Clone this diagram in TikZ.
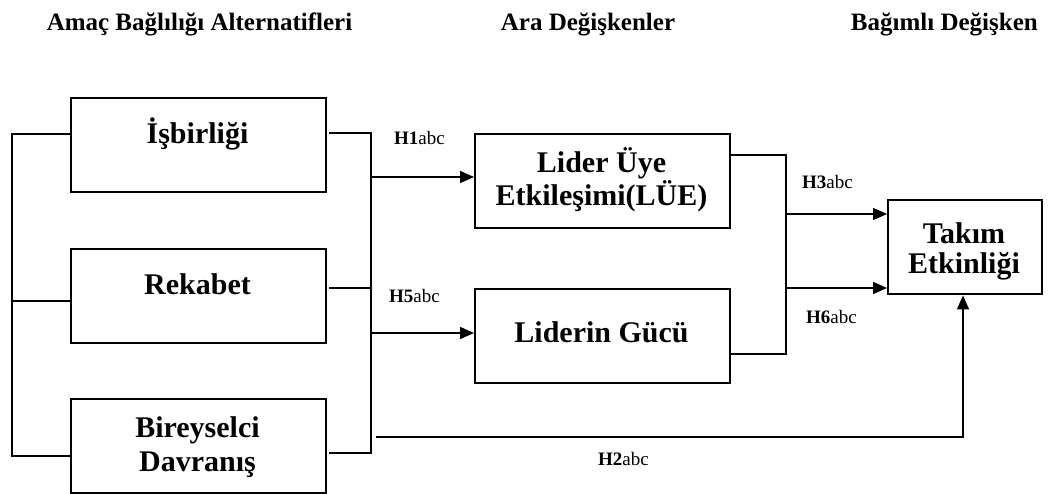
\documentclass[tikz,border=0pt]{standalone}
\usepackage{fontspec}
\setmainfont{Liberation Serif}
\usetikzlibrary{arrows.meta}
\begin{document}
\begin{tikzpicture}[x=1pt,y=-1pt,
  box/.style={draw, line width=2.4pt, minimum width=255pt, minimum height=94pt,
    inner sep=0pt, anchor=north west},
  btxt/.style={font=\fontsize{30}{36}\selectfont\bfseries, anchor=base, inner sep=0pt},
  head/.style={font=\fontsize{25}{30}\selectfont\bfseries, anchor=base, inner sep=0pt},
  hyp/.style={font=\fontsize{19}{23}\selectfont, anchor=base west, inner sep=0pt},
  link/.style={line width=1.5pt},
  arr/.style={link, -{Triangle[length=14pt,width=12pt]}}]
\useasboundingbox (0,0) rectangle (1049,493);

% column headings
\node[head] (hA) at (199.5,30) {Amaç Bağlılığı Alternatifleri};
\node[head] (hB) at (588,30) {Ara Değişkenler};
\node[head, anchor=base east] (hC) at (1038,30) {Bağımlı Değişken};

% boxes
\node[box] (isb) at (70,97) {};
\node[box] (rek) at (70,248) {};
\node[box] (bir) at (70,398) {};
\node[box] (lue) at (474,133) {};
\node[box] (lg) at (474,288) {};
\node[box, minimum width=154pt] (tak) at (887,199) {};

% box texts
\node[btxt] (isbT) at (197.5,143) {İşbirliği};
\node[btxt] (rekT) at (197.5,294) {Rekabet};
\node[btxt] (birT1) at (197.5,437) {Bireyselci};
\node[btxt] (birT2) at (197.5,471) {Davranış};
\node[btxt] (lueT1) at (601.5,172) {Lider Üye};
\node[btxt] (lueT2) at (601.5,205) {Etkileşimi(LÜE)};
\node[btxt] (lgT) at (601.5,342) {Liderin Gücü};
\node[btxt] (takT1) at (964,243) {Takım};
\node[btxt] (takT2) at (964,273) {Etkinliği};

% hypothesis labels
\node[hyp] (h1) at (394,144) {\textbf{H1}abc};
\node[hyp] (h5) at (389,302) {\textbf{H5}abc};
\node[hyp] (h3) at (802,188) {\textbf{H3}abc};
\node[hyp] (h6) at (806,323) {\textbf{H6}abc};
\node[hyp] (h2) at (598,465) {\textbf{H2}abc};

% left bracket joining the three alternatives
\coordinate (lt) at (12,134);
\coordinate (lm) at (12,301);
\coordinate (lb) at (12,456);
\draw[link] (isb.west |- lt) -- (lt) -- (lb) -- (bir.west |- lb);
\draw[link] (lm) -- (rek.west |- lm);

% bracket towards the mediators
\coordinate (ra0) at (329,133);
\coordinate (rb0) at (329,288);
\coordinate (rc0) at (329,453);
\coordinate (ra) at (371,133);
\coordinate (rb) at (371,288);
\coordinate (rc) at (371,453);
\draw[link] (ra0) -- (ra) -- (rc) -- (rc0);
\draw[link] (rb0) -- (rb);
\coordinate (j1) at (371,177);
\coordinate (j2) at (371,333);
\draw[arr] (j1) -- (lue.west |- j1);
\draw[arr] (j2) -- (lg.west |- j2);

% direct path to the outcome
\coordinate (b0) at (376,437);
\coordinate (b1) at (963,437);
\draw[arr] (b0) -- (b1) -- (b1 |- tak.south);

% mediators to the outcome
\coordinate (q1) at (786,155);
\coordinate (q2) at (786,354);
\coordinate (k1) at (786,214);
\coordinate (k2) at (786,288);
\draw[link] (lue.east |- q1) -- (q1) -- (q2) -- (lg.east |- q2);
\draw[arr] (k1) -- (tak.west |- k1);
\draw[arr] (k2) -- (tak.west |- k2);
\end{tikzpicture}
\end{document}
